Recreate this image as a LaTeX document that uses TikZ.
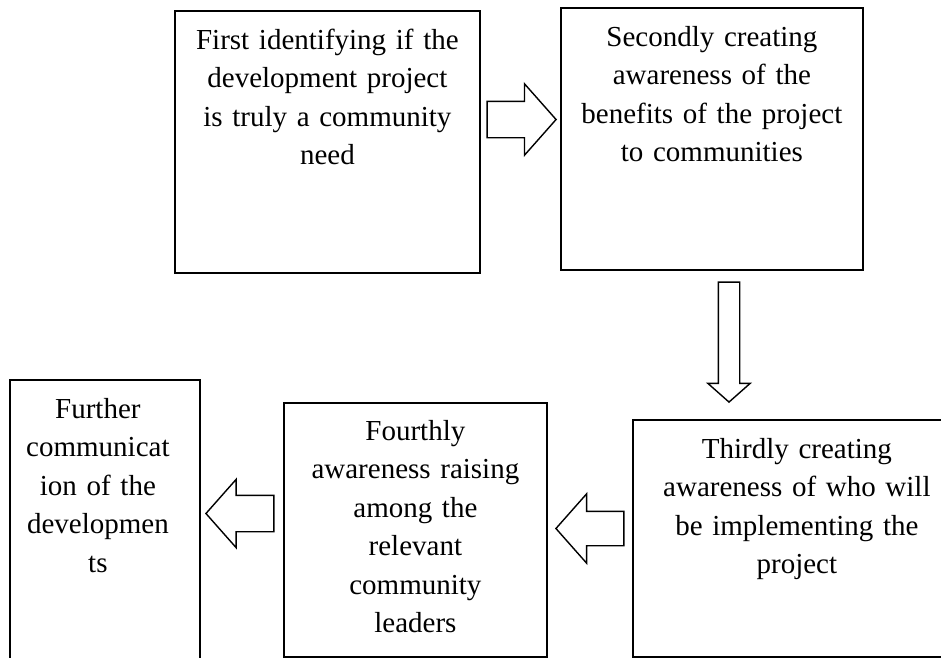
\documentclass[tikz,border=0pt]{standalone}
\usepackage{fontspec}
\setmainfont{Liberation Serif}
\usetikzlibrary{shapes.arrows}
\begin{document}
\begin{tikzpicture}[x=1pt,y=-1pt,
  stepbox/.style={draw, line width=1.8pt, rectangle, anchor=north west, inner sep=0pt},
  steptext/.style={anchor=base, align=center, inner sep=0pt,
    font=\fontsize{29}{38.5}\selectfont},
  blockarrow/.style={single arrow, draw, fill=white, line width=1.4pt,
    inner xsep=0pt, single arrow tip angle=97, anchor=tip}]
  \useasboundingbox[fill=white] (0,0) rectangle (941,657);
  \clip (0,0) rectangle (941,657);

  % process boxes (the third and fifth run past the page edge)
  \node[stepbox, minimum width=305, minimum height=262] (b1) at (174,10) {};
  \node[stepbox, minimum width=302, minimum height=262] (b2) at (560,7) {};
  \node[stepbox, minimum width=328, minimum height=237] (b3) at (632,419) {};
  \node[stepbox, minimum width=263, minimum height=254] (b4) at (283,402) {};
  \node[stepbox, minimum width=190, minimum height=320] (b5) at (9,379) {};

  % box texts, first baseline 39 below each top edge
  \node[steptext, text width=300] (t1) at ([yshift=-39pt]b1.north)
    {First identifying if the\\development project\\is truly a community\\need};
  \node[steptext, text width=300] (t2) at ([yshift=-39pt]b2.north)
    {Secondly creating\\awareness of the\\benefits of the project\\to communities};
  \node[steptext, text width=320] (t3) at ([yshift=-39pt]b3.north)
    {Thirdly creating\\awareness of who will\\be implementing the\\project};
  \node[steptext, text width=260] (t4) at ([yshift=-38pt]b4.north)
    {Fourthly\\awareness raising\\among the\\relevant\\community\\leaders};
  \node[steptext, text width=185] (t5) at ([xshift=-7pt,yshift=-39pt]b5.north)
    {Further\\communicat\\ion of the\\developmen\\ts};

  % block arrows between the steps
  \node[blockarrow, inner ysep=17.5pt, single arrow head extend=17.5pt,
        minimum height=69pt] (a12) at (557,119.5) {};
  \node[blockarrow, inner ysep=10pt, single arrow head extend=10.5pt,
        minimum height=120pt, rotate=-90] (a23) at (729,403) {};
  \node[blockarrow, inner ysep=16.5pt, single arrow head extend=17.5pt,
        minimum height=68pt, rotate=180] (a34) at (555,528.5) {};
  \node[blockarrow, inner ysep=17.5pt, single arrow head extend=16pt,
        minimum height=68pt, rotate=180] (a45) at (205,513.5) {};
\end{tikzpicture}
\end{document}
